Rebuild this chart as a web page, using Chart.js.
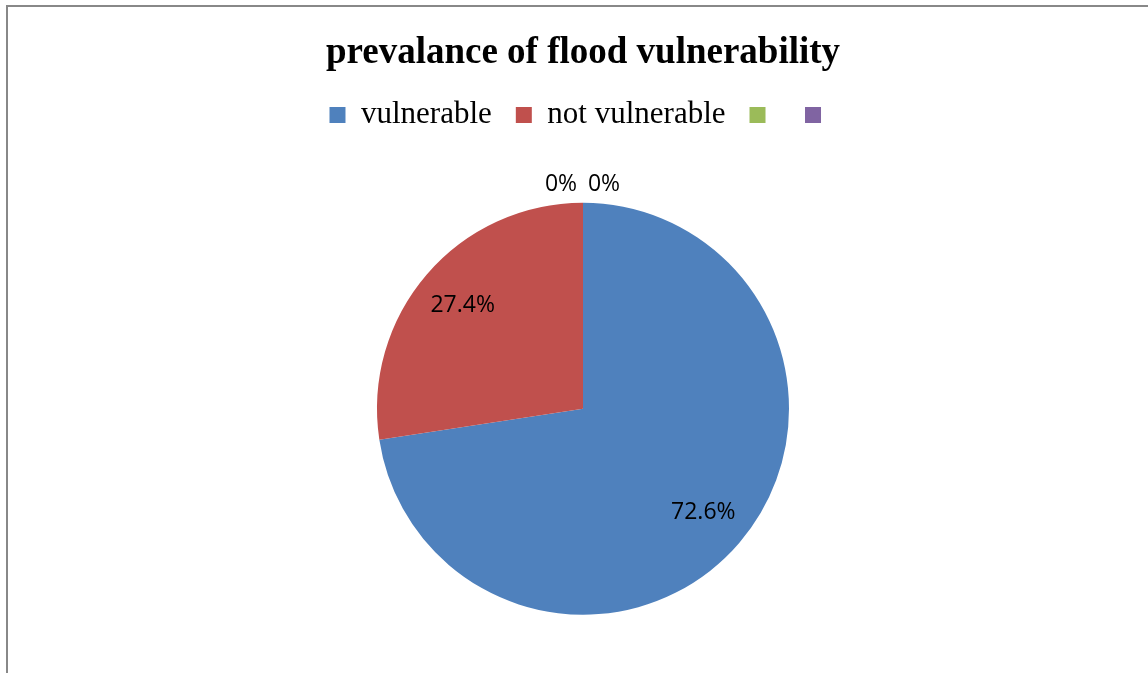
<!DOCTYPE html>
<html>
<head>
<meta charset="utf-8">
<script src="https://cdn.jsdelivr.net/npm/chart.js@4.4.1/dist/chart.umd.min.js"></script>
<style>
    html, body { margin: 0; padding: 0; background: #fff; overflow: hidden; width: 1148px; height: 673px; }
    #frame {
        position: absolute; left: 6px; top: 5px; width: 1200px; height: 700px;
        border-left: 2px solid #888; border-top: 2px solid #888;
    }
    #wrap { position: absolute; left: 0; top: 0; width: 1148px; height: 689px; }
</style>
</head>
<body>
<div id="frame"></div>
<div id="wrap"><canvas id="pieChart"></canvas></div>
<script>
const categories = ['vulnerable', 'not vulnerable', '', ''];
const shares = [72.6, 27.4, 0, 0];
const labelsText = ['72.6%', '27.4%', '0%', '0%'];
const colors = ['#4F81BD', '#C0504D', '#9BBB59', '#8064A2'];

// etiquetas de porcentaje sobre cada sector
const pieLabels = {
    id: 'pieLabels',
    afterDatasetsDraw(chart) {
        const ctx = chart.ctx;
        const arcs = chart.getDatasetMeta(0).data;
        ctx.save();
        ctx.font = '23px "Open Sans"';
        ctx.fillStyle = '#000';
        ctx.textAlign = 'center';
        ctx.textBaseline = 'middle';
        arcs.forEach((arc, i) => {
            const mid = (arc.startAngle + arc.endAngle) / 2;
            let r = arc.outerRadius * 0.77;
            let dx = 0;
            if (shares[i] === 0) {
                r = arc.outerRadius + 18;
                dx = i === 2 ? -22 : 21;
            }
            const x = arc.x + Math.cos(mid) * r + dx;
            const y = arc.y + Math.sin(mid) * r;
            ctx.fillText(labelsText[i], x, y);
        });
        ctx.restore();
    }
};

const canvas = document.getElementById('pieChart');
new Chart(canvas.getContext('2d'), {
    type: 'pie',
    data: {
        labels: categories,
        datasets: [{
            data: shares,
            backgroundColor: colors,
            borderWidth: 0,
            radius: 206
        }]
    },
    options: {
        responsive: true,
        maintainAspectRatio: false,
        animation: false,
        layout: { padding: { left: 18, bottom: 12 } },
        plugins: {
            tooltip: { enabled: false },
            title: {
                display: true,
                text: 'prevalance of flood vulnerability',
                color: '#000',
                font: { family: '"Liberation Serif", "Times New Roman", serif', size: 37, weight: 'bold' },
                padding: { top: 31, bottom: 0 }
            },
            legend: {
                display: true,
                position: 'top',
                labels: {
                    color: '#000',
                    boxWidth: 16,
                    boxHeight: 16,
                    padding: 24,
                    font: { family: '"Liberation Serif", "Times New Roman", serif', size: 31 }
                }
            }
        }
    },
    plugins: [pieLabels]
});
</script>
</body>
</html>
